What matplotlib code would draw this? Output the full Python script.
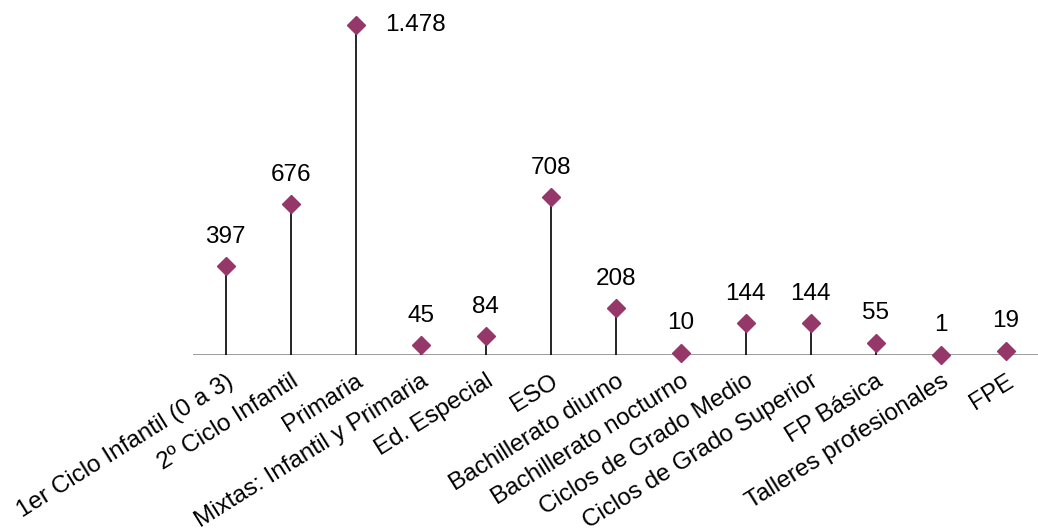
import matplotlib.pyplot as plt

plt.rcParams['font.family'] = ['Liberation Sans', 'DejaVu Sans']

CATEGORIES = ["1er Ciclo Infantil (0 a 3)", "2º Ciclo Infantil", "Primaria",
              "Mixtas: Infantil y Primaria", "Ed. Especial", "ESO",
              "Bachillerato diurno", "Bachillerato nocturno",
              "Ciclos de Grado Medio", "Ciclos de Grado Superior",
              "FP Básica", "Talleres profesionales", "FPE"]
VALUES = [397, 676, 1478, 45, 84, 708, 208, 10, 144, 144, 55, 1, 19]

MARKER_COLOR = "#963769"


def fmt(v):
    # Spanish thousands separator
    return f"{v:,}".replace(",", ".")


def main():
    fig = plt.figure(figsize=(10.38, 5.32), dpi=100)
    ax = fig.add_axes([0.186, 0.333, 0.814, 0.648])

    x = list(range(len(VALUES)))
    ax.vlines(x, 0, VALUES, color="black", linewidth=1.2, zorder=2)
    ax.plot(x, VALUES, linestyle="none", marker="D", markersize=9.5,
            color=MARKER_COLOR, zorder=3, clip_on=False)
    ax.axhline(0, color="#7f7f7f", linewidth=1.8, zorder=1)

    top = max(VALUES)
    for xi, v in zip(x, VALUES):
        if v == top:
            ax.annotate(fmt(v), (xi, v), xytext=(21, 0), textcoords="offset points",
                        ha="left", va="center", fontsize=17.5)
        else:
            ax.annotate(fmt(v), (xi, v), xytext=(0, 21), textcoords="offset points",
                        ha="center", va="center", fontsize=17.5)

    ax.set_xlim(-0.5, len(VALUES) - 0.5)
    ax.set_ylim(0, 1545)
    ax.set_xticks(x)
    ax.set_xticklabels(CATEGORIES, rotation=32, ha="right", rotation_mode="anchor",
                       fontsize=17.5)
    ax.tick_params(axis="x", length=0, pad=11)
    ax.set_yticks([])
    for s in ax.spines.values():
        s.set_visible(False)

    fig.savefig("out.png", dpi=100)
    plt.close(fig)


main()
